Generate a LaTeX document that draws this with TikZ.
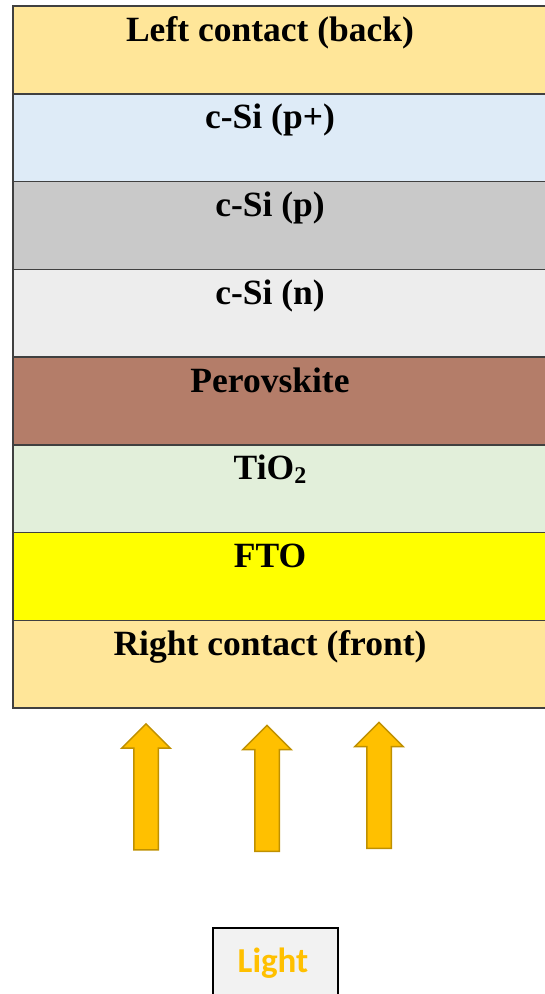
\documentclass[tikz,border=0pt]{standalone}
\usepackage{fontspec}
\setmainfont{Liberation Serif}
\newfontfamily\calibfont{Carlito}
\usetikzlibrary{positioning,shapes.arrows}
\definecolor{contact}{HTML}{FFE699}
\definecolor{siplus}{HTML}{DEEBF7}
\definecolor{sip}{HTML}{C9C9C9}
\definecolor{sin}{HTML}{EDEDED}
\definecolor{perov}{HTML}{B47D69}
\definecolor{tio}{HTML}{E2EFDA}
\definecolor{fto}{HTML}{FFFF00}
\definecolor{edge}{HTML}{404040}
\definecolor{sun}{HTML}{FFC000}
\definecolor{sundark}{HTML}{BF9000}

\begin{document}
\begin{tikzpicture}[
  x=1pt,y=1pt,
  layer/.style={draw=edge,line width=1.5pt,rectangle,outer sep=0pt,inner sep=0pt,
    minimum width=560pt,minimum height=87.75pt},
  lbl/.style={anchor=base,inner sep=0pt,font=\bfseries\fontsize{35.5}{40}\selectfont},
  ray/.style={single arrow,shape border rotate=90,fill=sun,draw=sundark,line width=1.5pt,
    minimum height=126pt,minimum width=47pt,single arrow head extend=12pt,
    single arrow tip angle=90,inner sep=11.5pt}
]
\useasboundingbox (0,0) rectangle (545,-994);
\clip (0,0) rectangle (545,-994);
\coordinate (mid) at (270,0);

% layer stack, back side on top
\node[layer,fill=contact,anchor=north west] (back) at (13,-6) {};
\node[layer,fill=siplus,below=0pt of back] (pplus) {};
\node[layer,fill=sip,below=0pt of pplus] (pbase) {};
\node[layer,fill=sin,below=0pt of pbase] (nbase) {};
\node[layer,fill=perov,below=0pt of nbase] (perovskite) {};
\node[layer,fill=tio,below=0pt of perovskite] (tio) {};
\node[layer,fill=fto,below=0pt of tio] (fto) {};
\node[layer,fill=contact,below=0pt of fto] (front) {};

\node[lbl,yshift=-35pt] at (back.north -| mid) {Left contact (back)};
\node[lbl,yshift=-35pt] at (pplus.north -| mid) {c-Si (p+)};
\node[lbl,yshift=-35pt] at (pbase.north -| mid) {c-Si (p)};
\node[lbl,yshift=-35pt] at (nbase.north -| mid) {c-Si (n)};
\node[lbl,yshift=-35pt] at (perovskite.north -| mid) {Perovskite};
\node[lbl,yshift=-35pt] at (tio.north -| mid) {TiO\raisebox{-4pt}{\fontsize{24}{24}\selectfont 2}};
\node[lbl,yshift=-35pt] at (fto.north -| mid) {FTO};
\node[lbl,yshift=-35pt] at (front.north -| mid) {Right contact (front)};

% incoming light
\node[ray] (ray1) at (146,-793) {};
\node[ray] (ray2) at (267,-794.5) {};
\node[ray] (ray3) at (379,-791.5) {};

\node[draw=black,line width=2pt,fill=black!5,minimum width=125pt,minimum height=90pt,
  anchor=north,inner sep=0pt] (lamp) at (275.5,-927) {};
\node[anchor=base,inner sep=0pt,text=sun,font=\calibfont\bfseries\fontsize{35}{40}\selectfont]
  (lighttxt) at (273,-972) {Light};
\end{tikzpicture}
\end{document}
